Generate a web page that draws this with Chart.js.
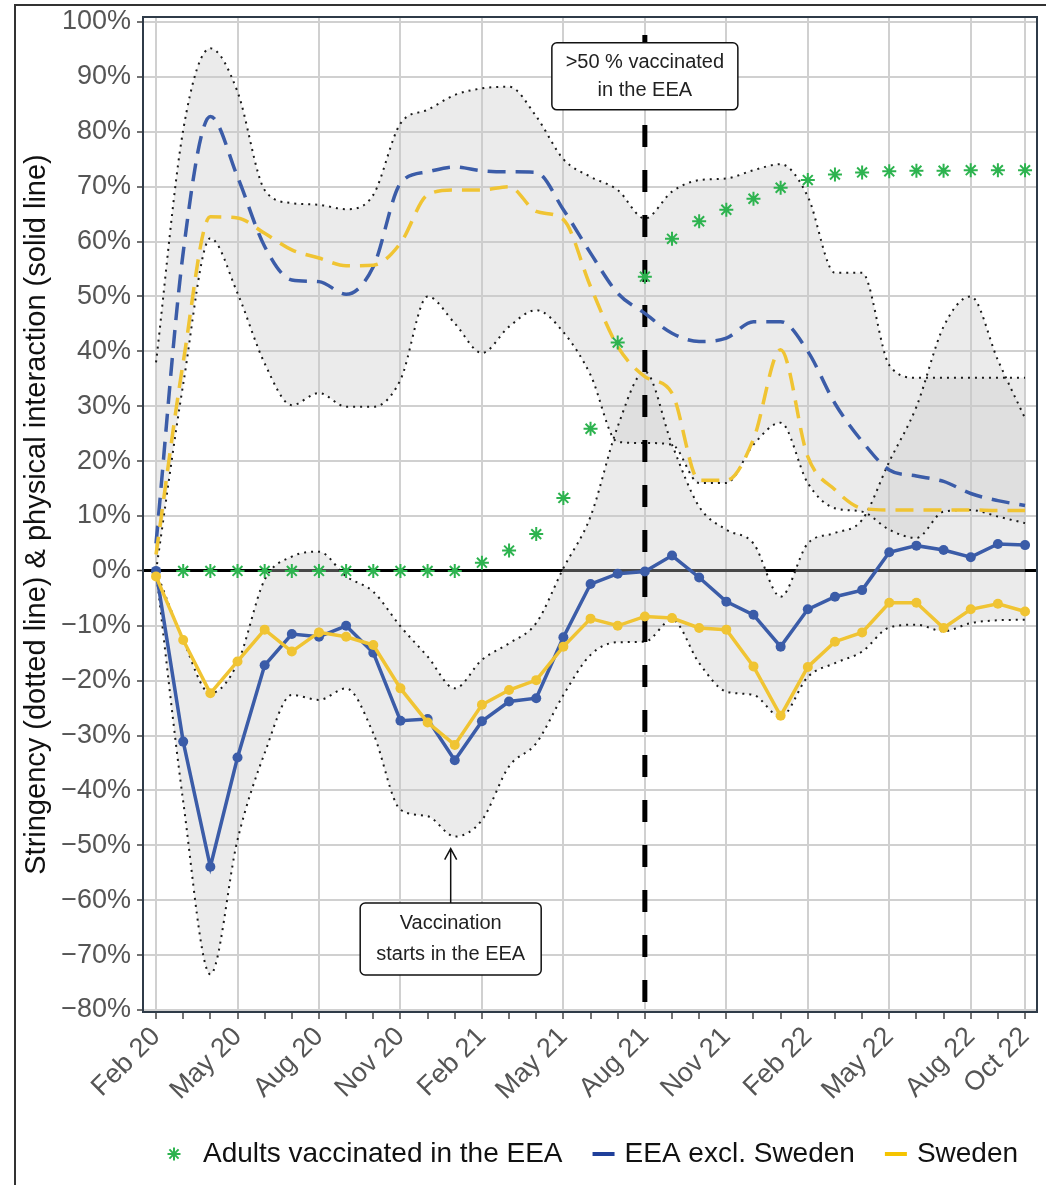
<!DOCTYPE html>
<html><head><meta charset="utf-8">
<script src="https://cdn.jsdelivr.net/npm/chart.js@4.4.1/dist/chart.umd.min.js"></script>
<style>html,body{margin:0;padding:0;background:#fff;}#wrap{width:1046px;height:1185px;}</style>
</head><body><div id="wrap"><canvas id="c" width="1046" height="1185"></canvas></div>
<script>
// ---------- data ----------
const months = ['Feb 20','Mar 20','Apr 20','May 20','Jun 20','Jul 20','Aug 20','Sep 20','Oct 20','Nov 20','Dec 20','Jan 21',
  'Feb 21','Mar 21','Apr 21','May 21','Jun 21','Jul 21','Aug 21','Sep 21','Oct 21','Nov 21','Dec 21','Jan 22',
  'Feb 22','Mar 22','Apr 22','May 22','Jun 22','Jul 22','Aug 22','Sep 22','Oct 22'];
const shownTicks = ['Feb 20','May 20','Aug 20','Nov 20','Feb 21','May 21','Aug 21','Nov 21','Feb 22','May 22','Aug 22','Oct 22'];
const yTicks = [-80,-70,-60,-50,-40,-30,-20,-10,0,10,20,30,40,50,60,70,80,90,100];

// physical interaction (solid lines), %
const interactionEEA = [0,-31.1,-53.9,-34.0,-17.2,-11.5,-12.0,-10.0,-14.9,-27.3,-27.0,-34.5,-27.4,-23.8,-23.2,-12.1,
  -2.4,-0.5,-0.1,2.8,-1.2,-5.6,-8.0,-13.8,-7.0,-4.7,-3.5,3.4,4.6,3.8,2.5,4.9,4.7];
const interactionSweden = [-1.0,-12.6,-22.3,-16.5,-10.7,-14.7,-11.2,-12.0,-13.5,-21.4,-27.6,-31.7,-24.4,-21.7,-19.9,-13.8,
  -8.7,-10.0,-8.3,-8.6,-10.4,-10.7,-17.4,-26.4,-17.5,-12.9,-11.2,-5.8,-5.8,-10.4,-7.0,-6.0,-7.4];
const interactionMax = [0,-12.6,-22.3,-16.8,-1.6,2.6,3.5,-1.0,-3.8,-10.1,-15.6,-21.4,-16.2,-13.2,-9.5,0.5,
  9.9,26.3,36.3,23.0,11.7,7.5,5.0,-4.7,5.0,6.9,9.3,19.9,29.9,44.5,50.0,38.4,27.8];
const interactionMin = [0,-42.0,-73.5,-49.0,-33.2,-22.6,-23.5,-21.4,-29.6,-43.5,-44.7,-48.4,-45.4,-35.6,-31.4,-22.6,
  -15.3,-13.0,-12.9,-8.9,-16.8,-22.0,-22.6,-26.6,-19.3,-16.8,-14.7,-10.3,-9.8,-11.0,-9.5,-9.0,-8.9];

// stringency (dashed lines), %
const stringencyEEA = [5,58,82.8,71.8,59.1,53.0,52.7,50.4,55.4,70.6,72.7,73.6,72.9,72.7,72.6,65.8,
  57.9,50.6,46.9,43.3,41.8,42.4,45.4,45.4,40.0,30.5,23.6,18.4,17.3,16.3,14.1,12.8,11.9];
const stringencySweden = [3,38,64.5,64.3,61.5,58.5,57.0,55.6,55.7,59.7,68.5,69.4,69.4,70.0,65.5,64.0,
  51.8,40.9,35.4,32.4,16.5,16.5,24.0,40.3,20.8,14.8,11.4,11.1,11.1,11.1,11.1,11.0,11.0];
const stringencyMax = [38,80.3,95.2,87.3,69.4,67.0,66.7,65.9,68.5,81.5,84.0,86.7,87.9,88.2,82.8,75.0,
  71.8,69.4,64.2,69.1,71.2,71.5,73.0,74.1,68.2,54.3,54.3,37.5,35.2,35.2,35.2,35.2,35.2];
const stringencyMin = [0,34,60.6,50.6,37.8,30.2,32.4,29.9,29.9,34.8,50.0,45.1,39.7,44.5,47.5,43.5,
  35.7,23.5,23.3,23.0,16.0,16.0,23.0,27.0,16.0,11.4,10.8,7.5,6.0,10.8,11.1,9.9,8.7];

// share of adults vaccinated in the EEA, %
const adultsVaccinated = [null,0,0,0,0,0,0,0,0,0,0,0,1.5,3.7,6.7,13.3,25.9,41.6,53.6,60.5,63.7,65.8,67.8,69.8,
  71.2,72.2,72.6,72.8,72.9,72.9,73.0,73.0,73.0];

const vaccinationStart = 10.85;   // late December 2020 (month index)
const halfVaccinated = 18;        // Aug 21

// ---------- styles ----------
const FONT = "'Liberation Sans', Arial, sans-serif";
const BLUE = '#3b5ca8', YELLOW = '#f0c433', GREEN = '#2db34f';
const BAND = 'rgba(200,200,200,0.36)';
const toXY = arr => arr.map((v, i) => ({x: i, y: v}));

const bandStyle = {borderColor: '#1a1a1a', borderWidth: 2, borderDash: [2, 5], pointRadius: 0,
  cubicInterpolationMode: 'monotone', order: 10};
const dashStyle = {borderWidth: 3.5, borderDash: [18, 10], pointRadius: 0, cubicInterpolationMode: 'monotone', fill: false};

const decor = {
  id: 'decor',
  beforeDatasetDraw(chart, args) {
    if (args.index !== 4) return;
    const {ctx, chartArea: a, scales: {x}} = chart;
    const px = x.getPixelForValue(halfVaccinated);
    ctx.save();
    ctx.strokeStyle = '#000'; ctx.lineWidth = 5;
    ctx.setLineDash([22, 23]); ctx.lineDashOffset = 27;
    ctx.beginPath(); ctx.moveTo(px, a.top); ctx.lineTo(px, a.bottom); ctx.stroke();
    ctx.restore();
  },
  afterDraw(chart) {
    const {ctx, chartArea: a, scales: {x, y}} = chart;
    ctx.save();
    // plot frame
    ctx.strokeStyle = '#2f3b48'; ctx.lineWidth = 2;
    ctx.strokeRect(a.left, a.top, a.right - a.left, a.bottom - a.top);
    // outer figure frame
    ctx.strokeStyle = '#333'; ctx.lineWidth = 2;
    ctx.beginPath(); ctx.moveTo(15, 1185); ctx.lineTo(15, 5); ctx.lineTo(1046, 5); ctx.stroke();

    function box(cx, top, bottom, w, lines) {
      const l = cx - w / 2, r = 5;
      ctx.beginPath();
      ctx.roundRect(l, top, w, bottom - top, r);
      ctx.fillStyle = '#fff'; ctx.fill();
      ctx.strokeStyle = '#111'; ctx.lineWidth = 1.5; ctx.setLineDash([]); ctx.stroke();
      ctx.fillStyle = '#222'; ctx.font = '20px ' + FONT; ctx.textAlign = 'center'; ctx.textBaseline = 'middle';
      const h = (bottom - top);
      lines.forEach((t, i) => ctx.fillText(t, cx, top + h * (0.29 + 0.42 * i)));
    }
    // >50% box
    box(x.getPixelForValue(halfVaccinated), y.getPixelForValue(96.2), y.getPixelForValue(84.0), 186,
      ['>50 % vaccinated', 'in the EEA']);
    // vaccination start box + arrow
    const vx = x.getPixelForValue(vaccinationStart);
    const bTop = y.getPixelForValue(-60.5);
    const tip = y.getPixelForValue(-50.6);
    ctx.strokeStyle = '#111'; ctx.lineWidth = 1.5; ctx.setLineDash([]);
    ctx.beginPath(); ctx.moveTo(vx, bTop); ctx.lineTo(vx, tip);
    ctx.moveTo(vx - 6, tip + 11); ctx.lineTo(vx, tip); ctx.lineTo(vx + 6, tip + 11); ctx.stroke();
    box(vx, bTop, y.getPixelForValue(-73.6), 181, ['Vaccination', 'starts in the EEA']);

    // legend
    const ly = 1154;
    let lx = a.left + 22;
    ctx.font = '28px ' + FONT; ctx.textAlign = 'left'; ctx.textBaseline = 'middle'; ctx.fillStyle = '#111';
    // star
    ctx.strokeStyle = GREEN; ctx.lineWidth = 2;
    const sx = lx + 9, sr = 6.5;
    ctx.beginPath();
    for (let k = 0; k < 4; k++) {
      const ang = k * Math.PI / 4;
      ctx.moveTo(sx - sr * Math.cos(ang), ly - sr * Math.sin(ang));
      ctx.lineTo(sx + sr * Math.cos(ang), ly + sr * Math.sin(ang));
    }
    ctx.stroke();
    lx += 38;
    const t1 = 'Adults vaccinated in the EEA';
    ctx.fillText(t1, lx, ly); lx += ctx.measureText(t1).width + 30;
    [['#1f3f9a', 'EEA excl. Sweden'], ['#f5c400', 'Sweden']].forEach(([c, t]) => {
      ctx.strokeStyle = c; ctx.lineWidth = 4;
      ctx.beginPath(); ctx.moveTo(lx, ly); ctx.lineTo(lx + 22, ly); ctx.stroke();
      lx += 32;
      ctx.fillStyle = '#111'; ctx.fillText(t, lx, ly); lx += ctx.measureText(t).width + 30;
    });
    ctx.restore();
  }
};

new Chart(document.getElementById('c'), {
  type: 'line',
  data: {
    datasets: [
      {label: 'Sweden', data: toXY(interactionSweden), borderColor: YELLOW, backgroundColor: YELLOW,
        borderWidth: 3.5, pointRadius: 5, pointBorderWidth: 0, pointBackgroundColor: YELLOW, tension: 0, order: 1, fill: false},
      {label: 'EEA excl. Sweden', data: toXY(interactionEEA), borderColor: BLUE, backgroundColor: BLUE,
        borderWidth: 3.5, pointRadius: 5, pointBorderWidth: 0, pointBackgroundColor: BLUE, tension: 0, order: 2, fill: false},
      {label: 'Adults vaccinated in the EEA', data: toXY(adultsVaccinated), showLine: false, pointStyle: 'star',
        pointRadius: 7, pointBorderWidth: 2, borderColor: GREEN, backgroundColor: GREEN, order: 3, fill: false},
      Object.assign({label: 'Stringency Sweden', data: toXY(stringencySweden), borderColor: YELLOW, order: 4}, dashStyle),
      Object.assign({label: 'Stringency EEA excl. Sweden', data: toXY(stringencyEEA), borderColor: BLUE, order: 5}, dashStyle),
      Object.assign({label: 'Stringency max', data: toXY(stringencyMax), fill: '+1', backgroundColor: BAND}, bandStyle),
      Object.assign({label: 'Stringency min', data: toXY(stringencyMin), fill: false}, bandStyle),
      Object.assign({label: 'Interaction max', data: toXY(interactionMax), fill: '+1', backgroundColor: BAND}, bandStyle),
      Object.assign({label: 'Interaction min', data: toXY(interactionMin), fill: false}, bandStyle)
    ]
  },
  options: {
    responsive: false, devicePixelRatio: 1, animation: false,
    layout: {padding: {left: 15, right: 9, top: 17, bottom: 0}},
    plugins: {legend: {display: false}, tooltip: {enabled: false}, filler: {drawTime: 'beforeDatasetsDraw'}},
    scales: {
      x: {
        type: 'linear', min: -0.48, max: 32.44,
        afterBuildTicks: s => { s.ticks = months.map((m, i) => ({value: i})); },
        afterFit: s => { s.height = 173; s.paddingLeft = 0; s.paddingRight = 0; },
        ticks: {autoSkip: false, maxRotation: 45, minRotation: 45, padding: 2,
          color: '#555', font: {family: FONT, size: 27},
          callback: v => shownTicks.includes(months[v]) ? months[v] : ''},
        grid: {drawOnChartArea: true, lineWidth: 2, tickLength: 7, tickColor: '#444', tickWidth: 1.5,
          color: c => (c.tick && shownTicks.includes(months[c.tick.value])) ? '#d0d0d0' : 'rgba(0,0,0,0)'},
        border: {display: true, color: '#2f3b48', width: 2}
      },
      y: {
        min: -80.36, max: 100.91,
        afterBuildTicks: s => { s.ticks = yTicks.map(v => ({value: v})); },
        afterFit: s => { s.width = 128; s.paddingTop = 0; s.paddingBottom = 0; },
        ticks: {color: '#555', font: {family: FONT, size: 27}, padding: 6,
          callback: v => (v < 0 ? '\u2212' + Math.abs(v) : v) + '%'},
        grid: {lineWidth: c => (c.tick && c.tick.value === 0) ? 3 : 2, tickLength: 6, tickColor: '#444', tickWidth: 1.5,
          color: c => (c.tick && c.tick.value === 0) ? '#000' : '#d0d0d0'},
        border: {display: true, color: '#2f3b48', width: 2},
        title: {display: true, text: 'Stringency (dotted line) & physical interaction (solid line)',
          color: '#111', font: {family: FONT, size: 29}, padding: {top: 5, bottom: 0}}
      }
    }
  },
  plugins: [decor]
});
</script></body></html>
